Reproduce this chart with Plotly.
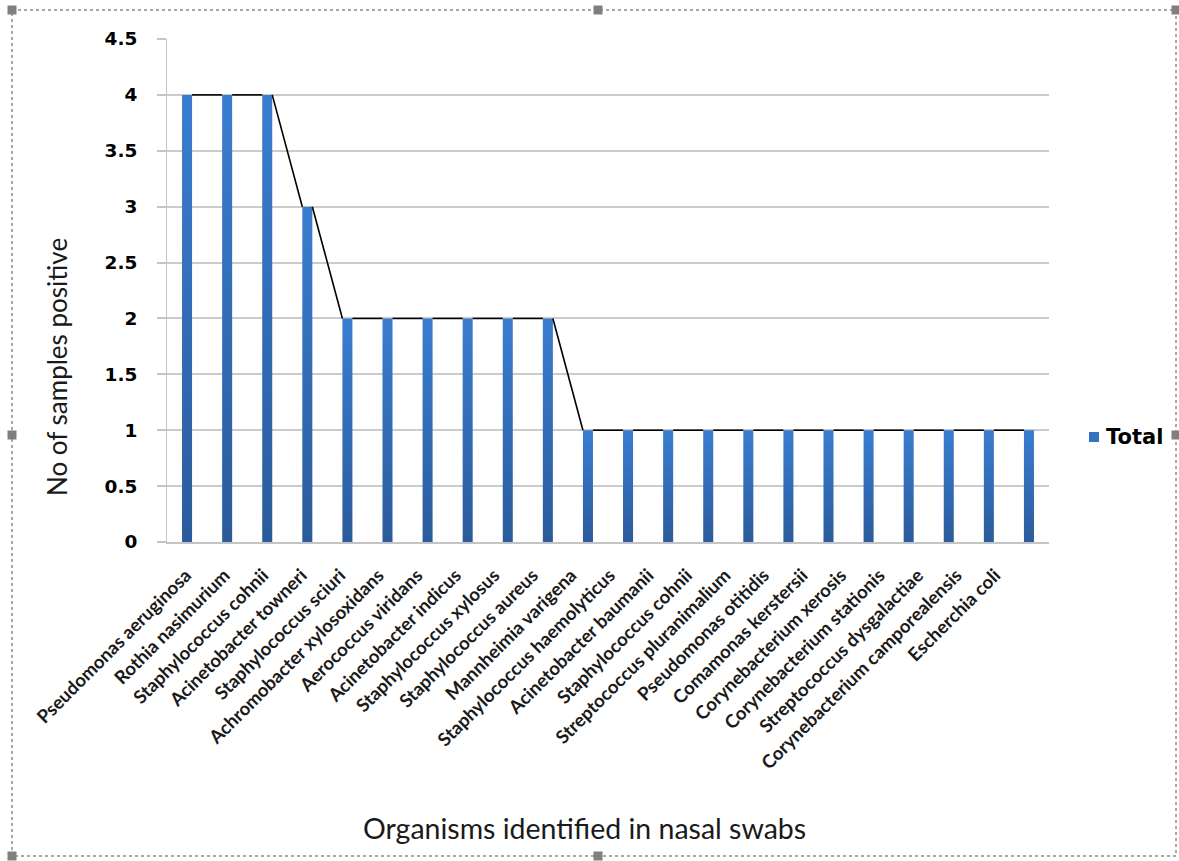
import plotly.graph_objects as go

# Organisms (in plotted order) and number of positive nasal-swab samples
organisms = [
    "Pseudomonas aeruginosa",
    "Rothia nasimurium",
    "Staphylococcus cohnii",
    "Acinetobacter towneri",
    "Staphylococcus sciuri",
    "Achromobacter xylosoxidans",
    "Aerococcus viridans",
    "Acinetobacter indicus",
    "Staphylococcus xylosus",
    "Staphylococcus aureus",
    "Mannheimia varigena",
    "Staphylococcus haemolyticus",
    "Acinetobacter baumanii",
    "Staphylococcus cohnii",
    "Streptococcus pluranimalium",
    "Pseudomonas otitidis",
    "Comamonas kerstersii",
    "Corynebacterium xerosis",
    "Corynebacterium stationis",
    "Streptococcus dysgalactiae",
    "Corynebacterium camporealensis",
    "Escherchia coli",
]
samples = [4, 4, 4, 3, 2, 2, 2, 2, 2, 2, 1, 1, 1, 1, 1, 1, 1, 1, 1, 1, 1, 1]
y_ticks = [0, 0.5, 1, 1.5, 2, 2.5, 3, 3.5, 4, 4.5]
series_name = "Total"

W, H = 1179, 861
PL, PR, PT, PB = 167, 1049, 39, 542   # plot area in pixels
BAR_W = 0.25
BAR_TOP = "#3a7dd0"
BAR_BOTTOM = "#2b5b9b"
KEY_COLOR = "#3572c2"

positions = list(range(len(organisms)))


def px_x(px):
    return (px - PL) / (PR - PL)


def px_y(py):
    return (PB - py) / (PB - PT)


fig = go.Figure()

# category labels are laid out on their own axis (x); the bars live on x2
fig.add_trace(go.Scatter(
    x=positions, y=samples, xaxis="x", yaxis="y", mode="markers",
    marker=dict(opacity=0), showlegend=False, hoverinfo="skip",
))

# bars with a vertical gradient fill, one shape per organism
for pos, name, val in zip(positions, organisms, samples):
    x0, x1 = pos - BAR_W / 2, pos + BAR_W / 2
    fig.add_trace(go.Scatter(
        x=[x0, x1, x1, x0, x0], y=[0, 0, val, val, 0],
        xaxis="x2", yaxis="y", mode="lines", fill="toself",
        line=dict(width=0), name=name,
        fillgradient=dict(type="vertical", start=0, stop=val,
                          colorscale=[[0, BAR_BOTTOM], [1, BAR_TOP]]),
        showlegend=False, hoveron="fills",
        hovertemplate=f"{name}: {val}<extra>{series_name}</extra>",
    ))

# series lines joining the tops of neighbouring bars (right edge -> next left edge)
line_x, line_y = [], []
for i in range(len(samples) - 1):
    line_x += [positions[i] + BAR_W / 2, positions[i + 1] - BAR_W / 2, None]
    line_y += [samples[i], samples[i + 1], None]
fig.add_trace(go.Scatter(
    x=line_x, y=line_y, mode="lines", xaxis="x2", yaxis="y",
    line=dict(color="black", width=1.6), showlegend=False, hoverinfo="skip",
))

lab0, lab1 = 171.7, 1019.2
fig.update_layout(
    width=W, height=H,
    margin=dict(l=PL, r=W - PR, t=PT, b=H - PB, pad=0),
    paper_bgcolor="white", plot_bgcolor="rgba(0,0,0,0)",
    xaxis=dict(
        domain=[px_x(lab0), px_x(lab1)], anchor="y",
        range=[-0.5, len(organisms) - 0.5],
        tickmode="array", tickvals=positions, ticktext=organisms,
        tickangle=-45, ticks="", showgrid=False, zeroline=False, showline=False,
        ticklabelstandoff=18, ticklabelshift=-5,
        tickfont=dict(family="Lato", size=18.5, color="#1a1a1a", weight="bold"),
    ),
    xaxis2=dict(
        domain=[0, 1], anchor="y", range=[-0.5, len(organisms) - 0.5],
        showticklabels=False, ticks="", showgrid=False, zeroline=False,
        showline=True, linecolor="#c4c4c4", linewidth=2,
    ),
    yaxis=dict(
        anchor="x2",
        range=[0, 4.5], tickmode="array", tickvals=y_ticks,
        ticktext=[f"{v:g}" for v in y_ticks],
        showgrid=True, gridcolor="#cbcbcb", gridwidth=1.8, zeroline=False,
        showline=True, linecolor="#c4c4c4", linewidth=1,
        ticks="outside", ticklen=9, tickcolor="#c4c4c4", tickwidth=1.5,
        ticklabelstandoff=16,
        tickfont=dict(family="DejaVu Sans", size=18.5, color="black", weight="bold"),
    ),
)

annotations = [
    dict(text="No of samples positive", x=px_x(57), y=px_y(367),
         xref="paper", yref="paper", xanchor="center", yanchor="middle",
         showarrow=False, textangle=-90,
         font=dict(family="Lato", size=26, color="#1a1a1a")),
    dict(text="Organisms identified in nasal swabs", x=px_x(584), y=px_y(828),
         xref="paper", yref="paper", xanchor="center", yanchor="middle",
         showarrow=False,
         font=dict(family="Lato", size=28.5, color="#1a1a1a")),
    dict(text=series_name, x=px_x(1104), y=px_y(437), xref="paper", yref="paper",
         xanchor="left", yanchor="middle", showarrow=False,
         font=dict(family="DejaVu Sans", size=21, color="black", weight="bold")),
]
fig.update_layout(annotations=annotations)

shapes = [
    # legend key
    dict(type="rect", xref="paper", yref="paper",
         x0=px_x(1089), x1=px_x(1099), y0=px_y(432), y1=px_y(442),
         fillcolor=KEY_COLOR, line=dict(width=0)),
    # dotted frame around the chart object
    dict(type="rect", xref="paper", yref="paper",
         x0=px_x(12), x1=px_x(1176), y0=px_y(10), y1=px_y(856),
         line=dict(color="#a8a8a8", width=2, dash="dot"), fillcolor="rgba(0,0,0,0)"),
]
# sizing handles on the frame
for hx, hy in [(12, 10), (598, 10), (1176, 10), (12, 435), (1176, 435),
               (12, 856), (598, 856)]:
    shapes.append(dict(type="rect", xref="paper", yref="paper",
                       x0=px_x(hx - 4.5), x1=px_x(hx + 4.5),
                       y0=px_y(hy - 4.5), y1=px_y(hy + 4.5),
                       fillcolor="#7f7f7f", line=dict(width=0)))
fig.update_layout(shapes=shapes)

fig.write_html("out.html")
